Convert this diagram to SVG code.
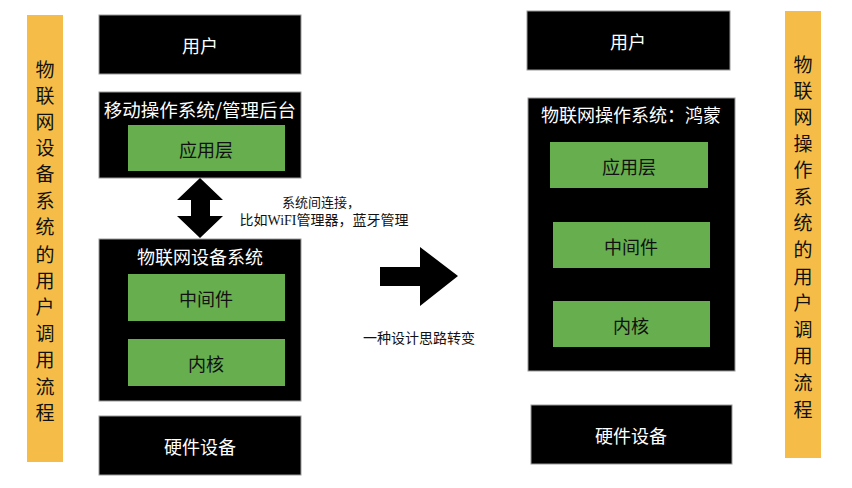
<svg xmlns="http://www.w3.org/2000/svg" width="852" height="488" viewBox="0 0 852 488">
<style>
.blk{fill:#000;stroke:#9a9a9a;stroke-width:1}
.grn{fill:#66ae4e}
.bar{fill:#f5bd48}
.wt{fill:#fff;font-family:"Noto Sans CJK SC","Noto Sans",sans-serif;font-size:18px;text-anchor:middle;dominant-baseline:central}
.dk{fill:#111;font-family:"Noto Sans CJK SC","Noto Sans",sans-serif;font-size:18px;text-anchor:middle;dominant-baseline:central}
.vt{fill:#111;font-family:"Noto Sans CJK SC","Noto Sans",sans-serif;font-size:19px;text-anchor:middle;dominant-baseline:central}
.lb{fill:#111;font-family:"Liberation Serif","Noto Sans CJK SC",serif;font-size:13px;text-anchor:middle;dominant-baseline:central}
</style>
<rect width="852" height="488" fill="#fff"/>

<g id="left-bar">
<rect class="bar" x="27" y="15" width="36" height="447"/>
<text class="vt" x="45" y="68">物</text>
<text class="vt" x="45" y="94">联</text>
<text class="vt" x="45" y="120">网</text>
<text class="vt" x="45" y="146">设</text>
<text class="vt" x="45" y="172">备</text>
<text class="vt" x="45" y="199">系</text>
<text class="vt" x="45" y="225">统</text>
<text class="vt" x="45" y="253">的</text>
<text class="vt" x="45" y="279">用</text>
<text class="vt" x="45" y="305">户</text>
<text class="vt" x="45" y="332">调</text>
<text class="vt" x="45" y="358">用</text>
<text class="vt" x="45" y="385">流</text>
<text class="vt" x="45" y="411">程</text>
</g>

<g id="left-user">
<rect class="blk" x="99" y="15" width="202" height="59"/>
<text class="wt" x="200" y="45">用户</text>
</g>

<g id="left-mobile-os">
<rect class="blk" x="99" y="92" width="202" height="86"/>
<text class="wt" x="200" y="109" style="font-size:18.5px">移动操作系统/管理后台</text>
</g>
<g id="left-app">
<rect class="grn" x="128" y="125" width="157" height="46"/>
<text class="dk" x="206" y="149">应用层</text>
</g>

<g id="left-iot-os">
<rect class="blk" x="99" y="239" width="202" height="162"/>
<text class="wt" x="200" y="256">物联网设备系统</text>
</g>
<g id="left-middleware">
<rect class="grn" x="128" y="274" width="157" height="47"/>
<text class="dk" x="206" y="298">中间件</text>
</g>
<g id="left-kernel">
<rect class="grn" x="128" y="339" width="157" height="47"/>
<text class="dk" x="206" y="363">内核</text>
</g>

<g id="left-hardware">
<rect class="blk" x="99" y="416" width="202" height="59"/>
<text class="wt" x="200" y="446">硬件设备</text>
</g>

<g id="right-user">
<rect class="blk" x="527" y="11" width="203" height="59"/>
<text class="wt" x="628" y="41">用户</text>
</g>

<g id="right-harmony">
<rect class="blk" x="528" y="98" width="207" height="273"/>
<text class="wt" x="631" y="114">物联网操作系统：鸿蒙</text>
</g>
<g id="right-app">
<rect class="grn" x="550" y="142" width="158" height="46"/>
<text class="dk" x="629" y="166">应用层</text>
</g>
<g id="right-middleware">
<rect class="grn" x="553" y="222" width="157" height="46"/>
<text class="dk" x="631" y="246">中间件</text>
</g>
<g id="right-kernel">
<rect class="grn" x="553" y="301" width="157" height="46"/>
<text class="dk" x="631" y="325">内核</text>
</g>

<g id="right-hardware">
<rect class="blk" x="531" y="405" width="201" height="59"/>
<text class="wt" x="631" y="435">硬件设备</text>
</g>

<g id="right-bar">
<rect class="bar" x="785" y="11" width="36" height="447"/>
<text class="vt" x="803" y="63">物</text>
<text class="vt" x="803" y="89">联</text>
<text class="vt" x="803" y="115">网</text>
<text class="vt" x="803" y="142">操</text>
<text class="vt" x="803" y="168">作</text>
<text class="vt" x="803" y="195">系</text>
<text class="vt" x="803" y="221">统</text>
<text class="vt" x="803" y="248">的</text>
<text class="vt" x="803" y="275">用</text>
<text class="vt" x="803" y="301">户</text>
<text class="vt" x="803" y="328">调</text>
<text class="vt" x="803" y="354">用</text>
<text class="vt" x="803" y="381">流</text>
<text class="vt" x="803" y="408">程</text>
</g>

<g id="connectors">
<polygon fill="#000" points="200,178 223,200 210,200 210,216 223,216 200,238 177,216 191,216 191,200 177,200"/>
<polygon fill="#000" points="380,267 420,267 420,247 458,276 420,306 420,286 380,286"/>
<text class="lb" x="321" y="202">系统间连接，</text>
<text class="lb" x="324" y="220" style="font-size:14px">比如WiFI管理器，蓝牙管理</text>
<text class="lb" x="419" y="338" style="font-size:14px">一种设计思路转变</text>
</g>
</svg>
